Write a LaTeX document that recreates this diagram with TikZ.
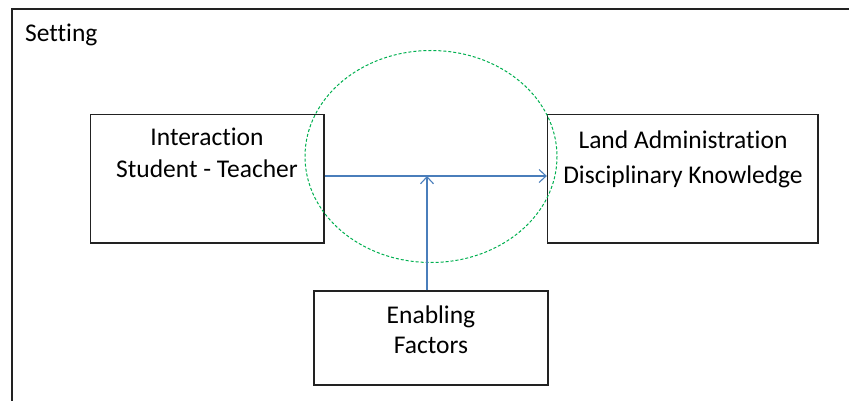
\documentclass[tikz,border=0pt]{standalone}
\usepackage{fontspec}
\setmainfont{Carlito}[Ligatures={NoCommon}]
\usetikzlibrary{arrows.meta}
\definecolor{arrowblue}{HTML}{4A7EBB}
\definecolor{dashgreen}{HTML}{00B050}
\definecolor{boxline}{HTML}{222222}
\begin{document}
\begin{tikzpicture}[x=1pt,y=-1pt,
  boxstyle/.style={draw=boxline,line width=1.3pt,rectangle,inner sep=0pt},
  txt/.style={font=\fontsize{25.5}{31}\selectfont,align=center,inner sep=0pt},
  conn/.style={draw=arrowblue,line width=1.1pt,-{Straight Barb[length=7pt,width=13pt,line width=1.1pt]}}]
\useasboundingbox (0,0) rectangle (849,401);
\fill[white] (0,0) rectangle (849,401);
% frame
\draw[draw=boxline,line width=1.6pt] (12,402) -- (12,9) -- (850,9);
\node[txt,anchor=west] (setting) at (25,35) {Setting};
% boxes
\node[boxstyle,minimum width=233.5pt,minimum height=128.5pt] (left) at (207.25,178.75) {};
\node[boxstyle,minimum width=270.5pt,minimum height=128.5pt] (right) at (682.75,178.75) {};
\node[boxstyle,minimum width=234pt,minimum height=94pt] (bottom) at (431,338) {};
\node[txt,font=\fontsize{25.5}{32}\selectfont] (lt) at (207,153) {Interaction\\Student - Teacher};
\node[txt,font=\fontsize{25.5}{35}\selectfont] (rt) at (683,159.5) {Land Administration\\Disciplinary Knowledge};
\node[txt,font=\fontsize{25.5}{30}\selectfont] (bt) at (431,330) {Enabling\\Factors};
% ellipse
\draw[dashgreen,line width=1pt,dash pattern=on 3pt off 2pt] (431,156.5) ellipse [x radius=126, y radius=106];
% connectors
\coordinate (meet) at (427,176);
\draw[conn] (left.east |- meet) -- (right.west |- meet);
\draw[conn] (bottom.north -| meet) -- (meet);
\end{tikzpicture}
\end{document}
